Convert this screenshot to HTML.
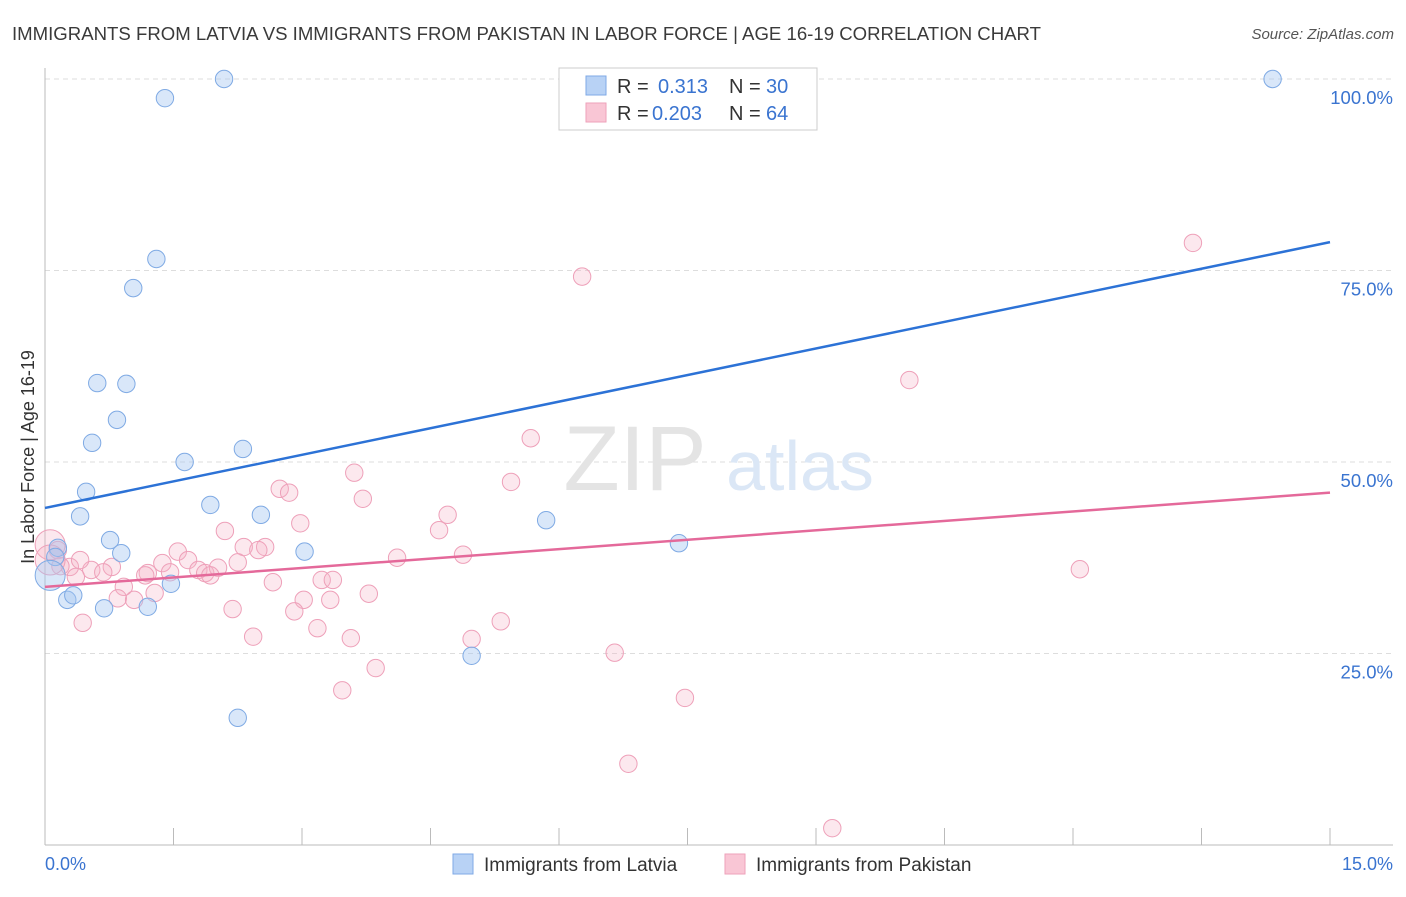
<!DOCTYPE html>
<html><head><meta charset="utf-8"><style>
body{margin:0;background:#fff;font-family:"Liberation Sans",sans-serif;}
svg text{font-family:"Liberation Sans",sans-serif;}
</style></head><body>
<svg id="chart" width="1406" height="892" xmlns="http://www.w3.org/2000/svg">
<text x="12" y="40" font-size="18.6" fill="#3a3a3a">IMMIGRANTS FROM LATVIA VS IMMIGRANTS FROM PAKISTAN IN LABOR FORCE | AGE 16-19 CORRELATION CHART</text>
<text x="1394" y="39" font-size="15" fill="#555" text-anchor="end" font-style="italic">Source: ZipAtlas.com</text>
<g id="grid"></g>
<text x="635" y="490" font-size="92" fill="#e4e4e4" text-anchor="middle" font-family="Liberation Serif">ZIP</text>
<text x="800" y="490" font-size="70" fill="#dbe7f6" text-anchor="middle">atlas</text>
<g id="axes"></g>
<g id="marks"></g>
<text transform="translate(34,457) rotate(-90)" font-size="18" fill="#333" text-anchor="middle">In Labor Force | Age 16-19</text>
<g>
<rect x="559" y="68" width="258" height="62" fill="#fff" stroke="#ccc"/>
<rect x="586" y="76" width="20" height="19" fill="#b8d2f5" stroke="#7fa9e6"/>
<rect x="586" y="103" width="20" height="19" fill="#f9c6d5" stroke="#eea2ba"/>
<text x="617" y="93" font-size="20" fill="#333">R = </text><text x="658" y="93" font-size="20" fill="#3a74d0">0.313</text>
<text x="729" y="93" font-size="20" fill="#333">N = </text><text x="766" y="93" font-size="20" fill="#3a74d0">30</text>
<text x="617" y="120" font-size="20" fill="#333">R = </text><text x="652" y="120" font-size="20" fill="#3a74d0">0.203</text>
<text x="729" y="120" font-size="20" fill="#333">N = </text><text x="766" y="120" font-size="20" fill="#3a74d0">64</text>
</g>
<g>
<rect x="453" y="854" width="20" height="20" fill="#b8d2f5" stroke="#7fa9e6"/>
<text x="484" y="871" font-size="19" fill="#333">Immigrants from Latvia</text>
<rect x="725" y="854" width="20" height="20" fill="#f9c6d5" stroke="#eea2ba"/>
<text x="756" y="871" font-size="19" fill="#333">Immigrants from Pakistan</text>
</g>
</svg>
<script>
const latviaX=[2.09,1.40,14.33,1.30,1.03,0.61,0.95,0.84,0.55,1.63,2.31,0.48,0.41,1.93,2.52,0.76,5.85,0.89,3.03,7.40,0.15,0.12,0.26,0.33,0.69,1.20,1.47,4.98,2.25,0.06];
const latviaY=[100,97.5,100,76.5,72.7,60.3,60.2,55.5,52.5,50.0,51.7,46.1,42.9,44.4,43.1,39.8,42.4,38.1,38.3,39.4,38.8,37.6,32.0,32.6,30.9,31.1,34.1,24.7,16.6,35.2];
const pakX=[13.40,6.27,10.09,5.67,3.61,5.44,3.71,2.74,2.85,4.70,2.98,4.60,2.10,0.15,0.06,2.57,2.32,2.49,1.55,1.67,1.37,4.88,4.11,2.25,0.29,0.18,0.78,0.54,0.68,0.36,1.20,1.46,1.79,1.87,2.02,2.66,0.92,1.28,3.78,3.23,3.36,0.85,1.04,3.02,3.33,2.19,2.91,0.44,3.18,5.32,2.43,3.57,4.98,6.65,3.86,3.47,7.47,6.81,9.19,12.08,0.06,0.41,1.17,1.93];
const pakY=[78.6,74.2,60.7,53.1,48.6,47.4,45.2,46.5,46.0,43.1,42.0,41.1,41.0,38.5,39.2,38.9,38.9,38.5,38.3,37.2,36.8,37.9,37.5,36.9,36.3,36.4,36.3,35.9,35.6,35.0,35.5,35.6,35.9,35.5,36.2,34.3,33.7,32.9,32.8,34.6,34.6,32.2,32.0,32.0,32.0,30.8,30.5,29.0,28.3,29.2,27.2,27.0,26.9,25.1,23.1,20.2,19.2,10.6,2.2,36.0,37.2,37.2,35.2,35.2];
const latviaTrend=[44.0,78.7];
const pakTrend=[33.7,46.0];
const yTicks=[25,50,75,100];
const yTickLabels=["25.0%","50.0%","75.0%","100.0%"];
const xTickLabels=["0.0%","15.0%"];
const NS="http://www.w3.org/2000/svg";
const sx=v=>45+v/15*1285;
const sy=v=>845-v*7.66;
function mk(tag,attrs,parent){const e=document.createElementNS(NS,tag);for(const k in attrs)e.setAttribute(k,attrs[k]);parent.appendChild(e);return e;}
const grid=document.getElementById('grid'),axes=document.getElementById('axes'),marks=document.getElementById('marks');
yTicks.forEach((t,i)=>{
 const l=mk('line',{x1:45,x2:1393,y1:sy(t),y2:sy(t),stroke:'#ddd','stroke-dasharray':'5,4'},grid);
 
 
 const tx=mk('text',{x:1393,y:sy(t)+25,'font-size':18.5,fill:'#3a74d0','text-anchor':'end'},axes);
 tx.textContent=yTickLabels[i];
 
 
});
mk('line',{x1:45,x2:45,y1:68,y2:845,stroke:'#bbb'},axes);
mk('line',{x1:45,x2:1393,y1:845,y2:845,stroke:'#bbb'},axes);
for(let i=0;i<=10;i++){const t=mk('line',{x1:sx(i*1.5),x2:sx(i*1.5),y1:828,y2:845,stroke:'#bbb'},axes);
 
 }
const xl0=mk('text',{x:45,y:870,'font-size':18,fill:'#3a74d0'},axes);xl0.textContent=xTickLabels[0];


const xl1=mk('text',{x:1393,y:870,'font-size':18,fill:'#3a74d0','text-anchor':'end'},axes);xl1.textContent=xTickLabels[1];


function pts(X,Y,fill,stroke,name){X.forEach((x,i)=>{const big=(x<0.1);const c=mk('circle',{cx:sx(x),cy:sy(Y[i]),r:big?15:8.7,fill:fill,stroke:stroke,'stroke-width':1},marks);
 
 });}
pts(pakX,pakY,'rgba(246,178,200,0.3)','#eea0b9','pakistan-point');
pts(latviaX,latviaY,'rgba(165,198,240,0.42)','#7faae4','latvia-point');
const lt=mk('line',{x1:sx(0),y1:sy(latviaTrend[0]),x2:sx(15),y2:sy(latviaTrend[1]),stroke:'#2c72d6','stroke-width':2.5},marks);


const pt=mk('line',{x1:sx(0),y1:sy(pakTrend[0]),x2:sx(15),y2:sy(pakTrend[1]),stroke:'#e4699a','stroke-width':2.5},marks);


</script>
</body></html>
